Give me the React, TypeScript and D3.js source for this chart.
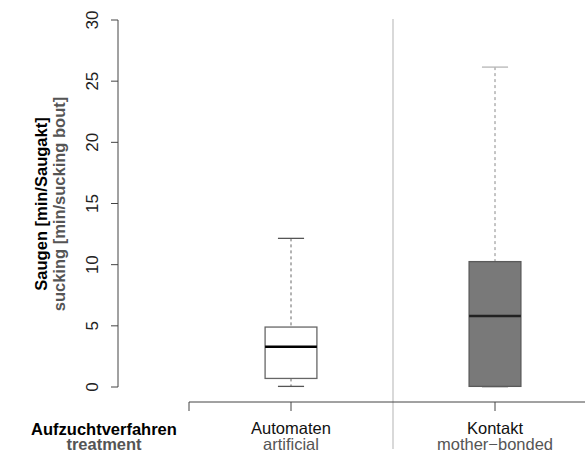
import React from "react";
import * as d3 from "d3";

const categories = ["Automaten", "Kontakt"];
const categoriesEn = ["artificial", "mother\u2212bonded"];
const lowerWhisker = [0.05, 0.0];
const q1 = [0.7, 0.05];
const median = [3.3, 5.8];
const q3 = [4.9, 10.25];
const upperWhisker = [12.15, 26.15];
const yTicks = [0, 5, 10, 15, 20, 25, 30];

const boxFill = ["#ffffff", "#797979"];
const boxStroke = ["#666666", "#5a5a5a"];
const whiskerStroke = ["#666666", "#8a8a8a"];
const capStroke = ["#555555", "#b5b5b5"];
const medianStroke = ["#000000", "#222222"];

export default function App() {
  const W = 585, H = 454;
  const x = d3.scaleLinear().domain([0.5, 2.5]).range([189, 597]);
  const y = d3.scaleLinear().domain([0, 30]).range([387, 20]);
  const halfBox = 0.127;
  const halfCap = 0.064;
  const font = "'Liberation Sans', Arial, Helvetica, sans-serif";
  const axisColor = "#444";
  const gray = "#555";

  return (
    <svg width={W} height={H} style={{ position: "absolute", left: 0, top: 0, background: "#fff" }}>
      {/* separator */}
      <line x1={x(1.5)} x2={x(1.5)} y1={19} y2={449} stroke="#cccccc" strokeWidth={1.5} />

      {/* y axis */}
      <line x1={118} x2={118} y1={y(0)} y2={y(30)} stroke={axisColor} strokeWidth={1} />
      {yTicks.map((t) => (
        <g key={t}>
          <line x1={111} x2={118} y1={y(t)} y2={y(t)} stroke={axisColor} strokeWidth={1} />
          <text
            transform={`translate(98,${y(t)}) rotate(-90)`}
            textAnchor="middle"
            fontFamily={font}
            fontSize={17}
            fill="#222"
          >
            {t}
          </text>
        </g>
      ))}
      <text transform={`translate(47,204) rotate(-90)`} textAnchor="middle" fontFamily={font} fontSize={16.5} fontWeight="bold" fill="#000">
        Saugen [min/Saugakt]
      </text>
      <text transform={`translate(64.5,204) rotate(-90)`} textAnchor="middle" fontFamily={font} fontSize={16.5} fontWeight="bold" fill={gray}>
        sucking [min/sucking bout]
      </text>

      {/* x axis */}
      <line x1={x(0.5)} x2={W} y1={402} y2={402} stroke={axisColor} strokeWidth={1} />
      {[0.5, 1, 2, 2.5].map((t) => (
        <line key={t} x1={x(t)} x2={x(t)} y1={402} y2={411} stroke={axisColor} strokeWidth={1} />
      ))}
      {categories.map((c, i) => (
        <g key={c}>
          <text x={x(i + 1)} y={434} textAnchor="middle" fontFamily={font} fontSize={16.5} fill="#111">
            {c}
          </text>
          <text x={x(i + 1)} y={449.5} textAnchor="middle" fontFamily={font} fontSize={16.5} fill={gray}>
            {categoriesEn[i]}
          </text>
        </g>
      ))}
      <text x={104} y={434.5} textAnchor="middle" fontFamily={font} fontSize={16.5} fontWeight="bold" fill="#000">
        Aufzuchtverfahren
      </text>
      <text x={104} y={449.5} textAnchor="middle" fontFamily={font} fontSize={16.5} fontWeight="bold" fill={gray}>
        treatment
      </text>

      {/* boxes */}
      {categories.map((c, i) => {
        const cx = x(i + 1);
        const bx0 = x(i + 1 - halfBox);
        const bx1 = x(i + 1 + halfBox);
        const cx0 = x(i + 1 - halfCap);
        const cx1 = x(i + 1 + halfCap);
        return (
          <g key={"box" + c}>
            <line x1={cx} x2={cx} y1={y(upperWhisker[i])} y2={y(q3[i])} stroke={whiskerStroke[i]} strokeWidth={1} strokeDasharray="3,3" />
            <line x1={cx} x2={cx} y1={y(q1[i])} y2={y(lowerWhisker[i])} stroke={whiskerStroke[i]} strokeWidth={1} strokeDasharray="3,3" />
            <line x1={cx0} x2={cx1} y1={y(upperWhisker[i])} y2={y(upperWhisker[i])} stroke={capStroke[i]} strokeWidth={1.3} />
            <line x1={cx0} x2={cx1} y1={y(lowerWhisker[i])} y2={y(lowerWhisker[i])} stroke={capStroke[i]} strokeWidth={1.3} />
            <rect
              x={bx0}
              y={y(q3[i])}
              width={bx1 - bx0}
              height={y(q1[i]) - y(q3[i])}
              fill={boxFill[i]}
              stroke={boxStroke[i]}
              strokeWidth={1.3}
            />
            <line x1={bx0} x2={bx1} y1={y(median[i])} y2={y(median[i])} stroke={medianStroke[i]} strokeWidth={2.5} />
          </g>
        );
      })}
    </svg>
  );
}
